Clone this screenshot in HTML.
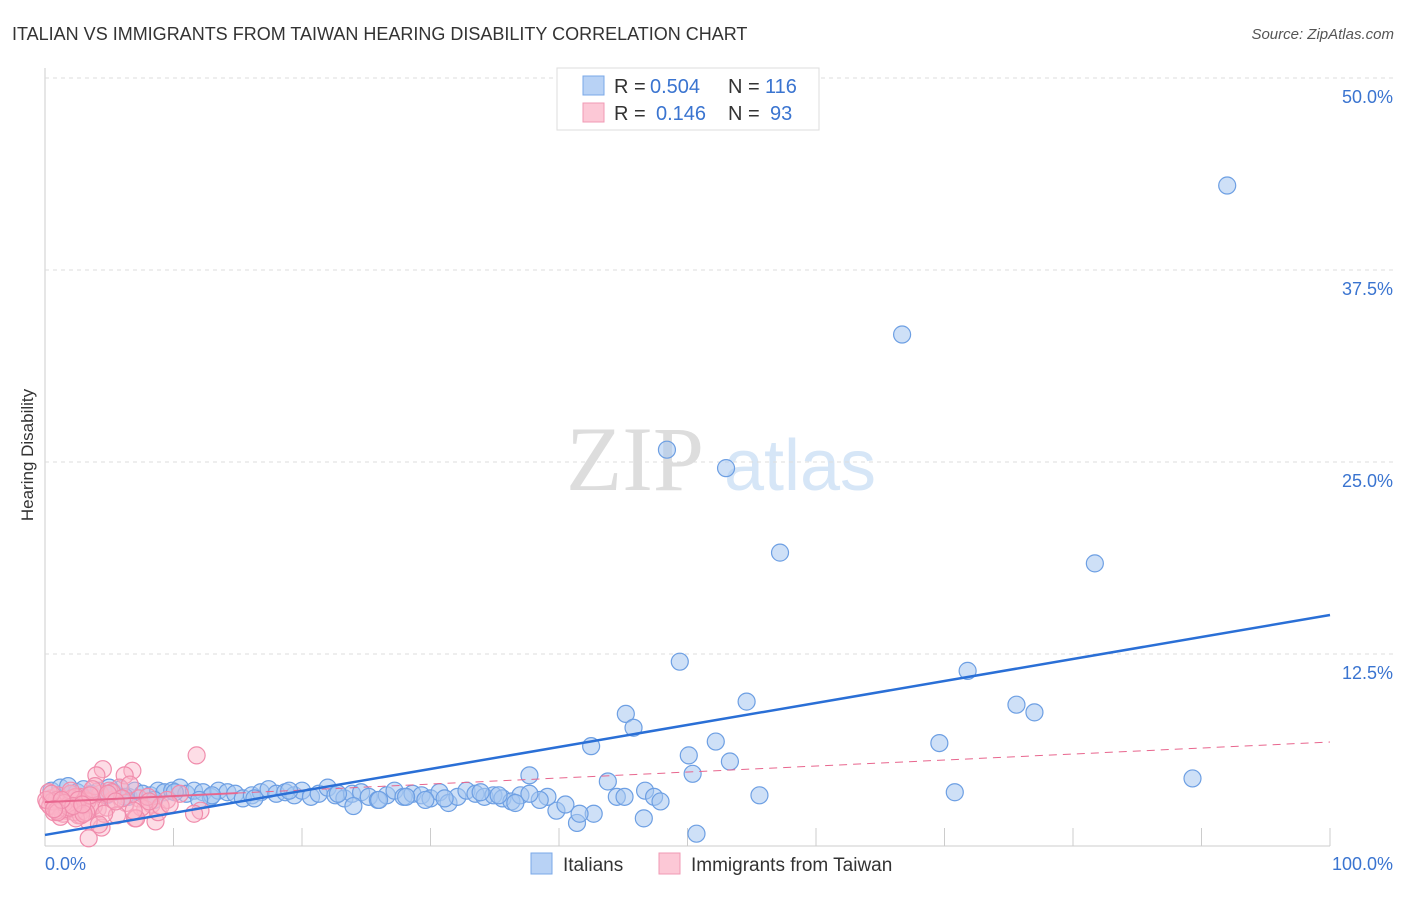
<!DOCTYPE html>
<html><head><meta charset="utf-8"><style>
body{margin:0;background:#fff;font-family:"Liberation Sans",sans-serif}
</style></head><body>
<svg id="c" width="1406" height="892" xmlns="http://www.w3.org/2000/svg" style="font-family:'Liberation Sans',sans-serif">
<text x="12" y="40" font-size="18" fill="#333">ITALIAN VS IMMIGRANTS FROM TAIWAN HEARING DISABILITY CORRELATION CHART</text>
<text x="1394" y="39" font-size="15" fill="#555" font-style="italic" text-anchor="end">Source: ZipAtlas.com</text>
<text transform="translate(33,455) rotate(-90)" font-size="17" fill="#333" text-anchor="middle">Hearing Disability</text>
<g><text x="635" y="490" font-size="92" fill="#ddd" font-family="Liberation Serif" text-anchor="middle">ZIP</text><text x="800" y="490" font-size="72" fill="#d6e6f7" text-anchor="middle">atlas</text></g>
<g id="grid"></g><g id="marks"></g>
<g font-size="20">
<rect x="557" y="68" width="262" height="62" fill="#fff" stroke="#ddd"/>
<rect x="583" y="76" width="21" height="19" fill="#b8d2f5" stroke="#7aa8e8"/>
<rect x="583" y="103" width="21" height="19" fill="#fcc8d6" stroke="#f09ab4"/>
<text x="614" y="93" fill="#333">R =</text><text x="650" y="93" fill="#3a74d0">0.504</text>
<text x="728" y="93" fill="#333">N =</text><text x="765" y="93" fill="#3a74d0">116</text>
<text x="614" y="120" fill="#333">R =</text><text x="656" y="120" fill="#3a74d0">0.146</text>
<text x="728" y="120" fill="#333">N =</text><text x="770" y="120" fill="#3a74d0">93</text>
</g>
<g>
<rect x="531" y="853" width="21" height="21" fill="#b8d2f5" stroke="#7aa8e8"/><text x="563" y="871" font-size="19" fill="#333">Italians</text>
<rect x="659" y="853" width="21" height="21" fill="#fcc8d6" stroke="#f09ab4"/><text x="691" y="871" font-size="19" fill="#333">Immigrants from Taiwan</text>
</g>
</svg>
<script>
const yTicks=[12.5,25,37.5,50];
const yTickLabels=["12.5%","25.0%","37.5%","50.0%"];
const xTickLabels=["0.0%","100.0%"];
const blueX=[92.0,66.7,48.4,53.0,57.2,81.7,49.4,71.8,54.6,75.6,77.0,45.2,45.8,69.6,42.5,52.2,50.1,53.3,50.4,89.3,37.7,43.8,55.6,70.8,46.7,44.5,45.1,47.4,47.9,46.6,50.7,41.4,42.7,41.6,39.8,40.5,39.1,38.5,
0.5,1.2,1.8,2.5,3.0,3.6,4.2,4.8,5.3,5.9,6.5,7.0,7.6,8.2,8.8,9.3,9.9,10.5,11.0,11.6,12.3,12.9,13.5,14.2,14.8,15.4,16.1,16.8,17.4,18.0,18.7,19.4,20.0,20.7,21.3,22.0,22.6,23.3,23.9,24.6,25.2,25.9,26.6,27.2,27.9,28.6,29.3,30.0,30.7,31.4,32.1,32.8,33.5,34.2,34.9,35.6,36.3,37.0,37.7,2.0,3.3,5.0,6.2,8.5,10.1,13.0,16.3,19.0,22.8,26.0,28.1,31.1,33.9,36.6,24.0,29.6,35.3,12.0];
const blueY=[43.0,33.3,25.8,24.6,19.1,18.4,12.0,11.4,9.4,9.2,8.7,8.6,7.7,6.7,6.5,6.8,5.9,5.5,4.7,4.4,4.6,4.2,3.3,3.5,3.6,3.2,3.2,3.2,2.9,1.8,0.8,1.5,2.1,2.1,2.3,2.7,3.2,3.0,
3.6,3.8,3.9,3.5,3.7,3.4,3.6,3.3,3.5,3.7,3.2,3.6,3.4,3.3,3.6,3.5,3.6,3.8,3.4,3.6,3.5,3.2,3.6,3.5,3.4,3.1,3.3,3.5,3.7,3.4,3.5,3.3,3.6,3.2,3.4,3.8,3.3,3.1,3.4,3.5,3.2,3.0,3.3,3.6,3.2,3.4,3.3,3.1,3.5,2.8,3.2,3.6,3.4,3.2,3.3,3.1,2.9,3.3,3.4,3.4,3.1,3.8,3.2,3.0,3.5,3.3,3.1,3.6,3.4,3.0,3.2,3.1,3.5,2.8,2.6,3.0,3.3,3.0];
const pinkX=[11.8,4.5,6.8,6.2,4.0,3.4,4.4,8.6,7.0,12.1,8.3,0.2,0.5,0.8,1.0,1.3,1.5,1.8,2.0,2.2,2.5,2.7,3.0,3.2,3.5,0.3,0.7,1.1,1.6,2.1,2.6,3.1,3.6,4.1,0.4,0.9,1.4,1.9,2.4,2.9,3.3,3.8,4.3,4.8,5.3,5.8,6.3,7.3,7.8,8.8,9.5,10.5,5.0,5.6,6.6,7.5,8.0,9.0,1.2,2.3,3.4,2.8,1.7,0.6,2.0,3.9,4.6,5.2,6.0,7.1,8.1,9.7,11.6,0.1,0.9,1.5,2.4,3.2,3.7,4.2,2.6,1.9,1.0,0.5,3.0,3.5,2.2,1.3,0.7,4.9,5.5,6.9,2.9];
const pinkY=[5.9,5.0,4.9,4.6,4.6,0.5,1.2,1.6,1.8,2.3,2.7,2.8,3.1,2.6,3.3,2.5,3.0,2.7,3.4,2.4,2.9,3.2,2.6,3.0,2.5,3.5,2.2,2.9,2.3,3.1,2.0,2.8,3.3,2.4,2.6,3.0,2.1,2.7,3.2,2.3,2.9,2.6,3.4,2.5,3.0,3.8,2.8,3.1,2.4,2.2,3.0,3.4,3.6,2.0,4.0,2.5,3.2,2.6,1.9,2.2,1.6,2.0,2.4,2.9,3.6,3.9,2.1,3.5,3.1,1.8,2.9,2.7,2.1,3.0,2.3,2.8,1.8,2.2,3.7,1.4,3.0,2.5,2.2,3.4,2.1,3.3,2.6,3.0,2.4,3.4,2.9,2.3,2.7];
const blueLine=[0.72,15.04], pinkLine=[2.86,6.77];
const X=v=>45+v*12.85, Y=v=>846-v*15.36;
const NS="http://www.w3.org/2000/svg";
function mk(t,a,p){const e=document.createElementNS(NS,t);for(const k in a)e.setAttribute(k,a[k]);p.appendChild(e);return e;}
const g=document.getElementById('grid'), m=document.getElementById('marks');
const ax=mk('line',{x1:45,y1:68,x2:45,y2:846,stroke:'#ccc'},g);


const bx=mk('line',{x1:45,y1:846,x2:1330,y2:846,stroke:'#ccc'},g);


yTicks.forEach((v,i)=>{
 const l=mk('line',{x1:45,y1:Y(v),x2:1394,y2:Y(v),stroke:'#ddd','stroke-dasharray':'4,4'},g);
 
 
 const t=mk('text',{x:1393,y:Y(v)+25,'font-size':18,fill:'#3a74d0','text-anchor':'end'},g);t.textContent=yTickLabels[i];
 
 
});
for(let i=1;i<=10;i++){const l=mk('line',{x1:X(i*10),y1:828,x2:X(i*10),y2:846,stroke:'#ccc'},g);
 
 }
[[0,xTickLabels[0],'start'],[100,xTickLabels[1],'end']].forEach(([v,s,a])=>{const t=mk('text',{x:X(v)+(a=='end'?63:0),y:870,'font-size':18,fill:'#3a74d0','text-anchor':a},g);t.textContent=s;
 
 });
blueX.forEach((v,i)=>{const c=mk('circle',{cx:X(v),cy:Y(blueY[i]),r:8.5,fill:'rgba(165,198,240,0.55)',stroke:'#6d9fe3','stroke-width':1.2},m);
 
 });
pinkX.forEach((v,i)=>{const c=mk('circle',{cx:X(v),cy:Y(pinkY[i]),r:8.5,fill:'rgba(250,180,200,0.45)',stroke:'#f08cac','stroke-width':1.2},m);
 
 });
const py=v=>pinkLine[0]+(pinkLine[1]-pinkLine[0])*v/100;
const p1=mk('line',{x1:X(0),y1:Y(py(0)),x2:X(15),y2:Y(py(15)),stroke:'#e8668e','stroke-width':2},m);


const p2=mk('line',{x1:X(15),y1:Y(py(15)),x2:X(100),y2:Y(py(100)),stroke:'#e8668e','stroke-width':1,'stroke-dasharray':'8,6'},m);


const b=mk('line',{x1:X(0),y1:Y(blueLine[0]),x2:X(100),y2:Y(blueLine[1]),stroke:'#2a6fd6','stroke-width':2.5},m);


</script>
</body></html>
